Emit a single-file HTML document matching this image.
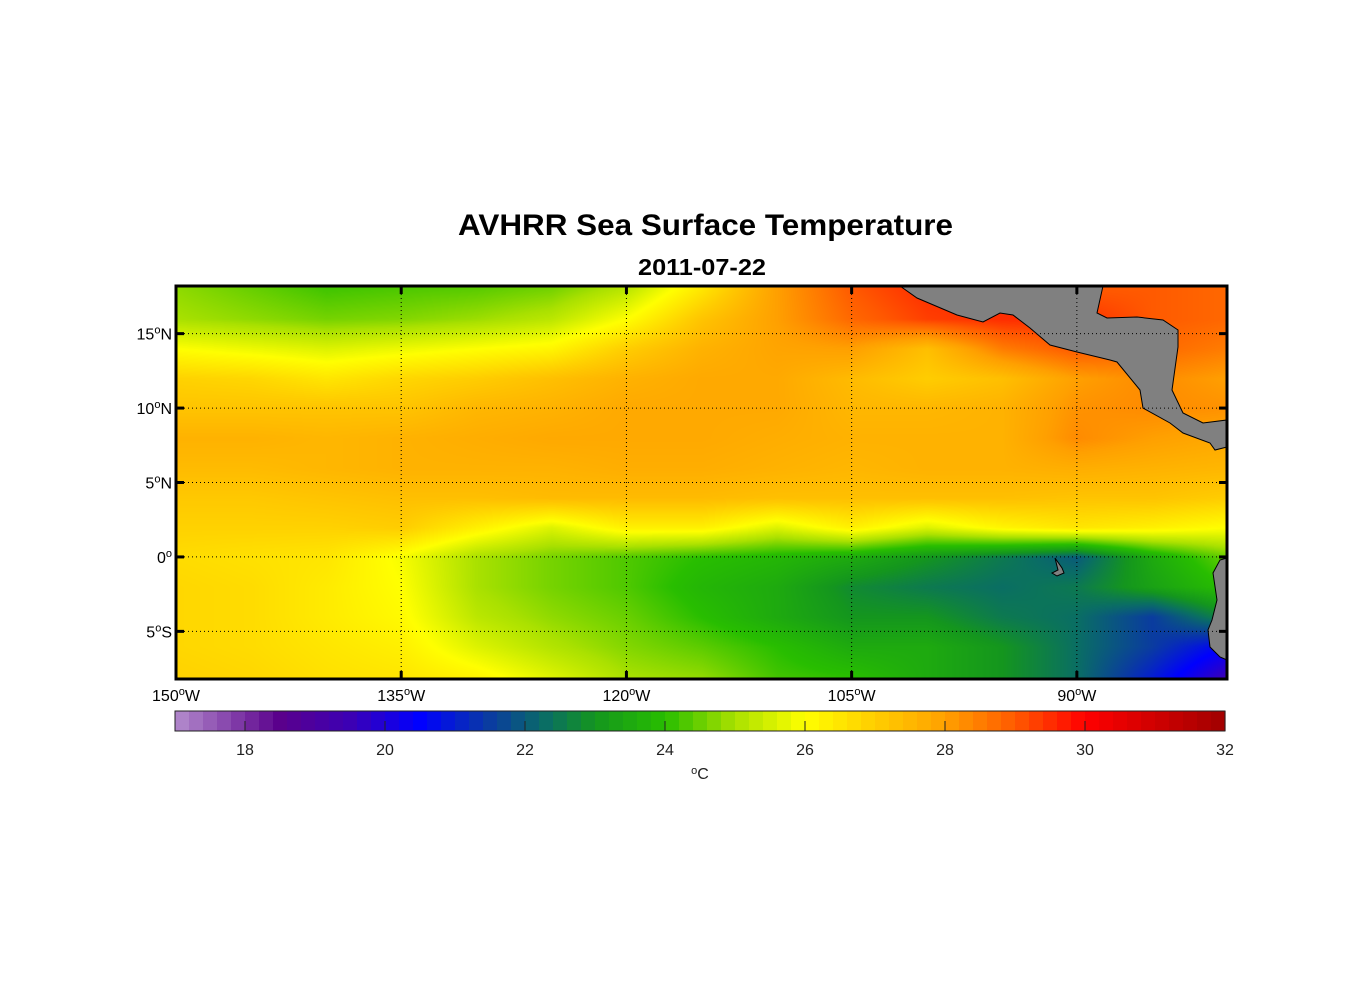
<!DOCTYPE html>
<html><head><meta charset="utf-8"><style>
html,body{margin:0;padding:0;background:#fff;}
body{width:1356px;height:1000px;position:relative;overflow:hidden;font-family:"Liberation Sans",sans-serif;}
svg{position:absolute;left:0;top:0;}
canvas{position:absolute;}
</style></head><body>
<canvas id="map" style="left:176px;top:286px" width="1051" height="393"></canvas>
<svg id="svg" width="1356" height="1000"></svg>
<script>
const lons = [-150,-145,-140,-135,-130,-125,-120,-115,-110,-105,-100,-95,-90,-85,-80];
const lats = [18,16,14,12,10,8,6,4,2,0,-2,-4,-6,-8];
const sst = [
[24.8,24.5,24.2,24.3,24.4,24.6,25.2,26.5,28,29,29.5,29.5,29,29,28.8],
[25,24.8,24.6,24.7,24.9,25.2,26,27.2,28,28.8,29.3,29.5,29.5,29,28.8],
[26,25.8,25.6,25.8,26,26.2,27,27.6,27.9,28,27.3,28.5,29,28.8,28.5],
[26.9,26.8,26.5,26.8,27,27.3,27.6,27.8,27.8,27.4,27,27.3,28,28.3,28],
[27.2,27.2,27.2,27.2,27.5,27.6,27.8,27.8,27.8,27.5,27.5,27.6,28.2,28.3,28.2],
[27.6,27.6,27.5,27.6,27.7,27.8,27.8,27.8,27.7,27.6,27.6,27.6,28.3,28,27.8],
[27.4,27.4,27.5,27.6,27.6,27.6,27.7,27.7,27.6,27.5,27.6,27.6,27.7,27.6,27.5],
[27.1,27.1,27.2,27.3,27.3,27.4,27.4,27.4,27.3,27.3,27.3,27.3,27.2,27.2,27],
[26.9,26.9,26.9,27,26.3,25.6,26.3,26.3,25.6,26.3,25.6,26.2,26.5,26.3,26],
[26.7,26.6,26.5,25.9,25,24.6,24.3,24,23.8,23.5,23,22.5,22,23.5,24.5],
[26.8,26.7,26.4,26,25,24.6,24.3,23.8,23.5,22.8,22.5,22.3,22.5,23.3,24],
[26.8,26.7,26.4,26.1,25.2,24.8,24.5,24,23.5,23,23,22.5,22.3,21.5,22.8],
[26.8,26.7,26.5,26.3,25.6,25.1,24.7,24.4,24,23.5,23.5,23,22.3,21.5,20.5],
[26.9,26.8,26.6,26.5,26.2,25.6,25,24.8,24.2,24,23.5,23,22.3,21,19.5]
];
const cbTicks = [18,20,22,24,26,28,30,32];
const lonTicks = [-150,-135,-120,-105,-90];
const latTicks = [15,10,5,0,-5];
const cmap = [[17,180,140,205],[18.5,90,0,140],[19.5,60,0,180],[20.5,0,0,255],[21.5,10,60,160],[22.3,10,110,100],[23,20,150,30],[24,40,190,0],[25,170,225,0],[26,255,255,0],[27,255,205,0],[28,255,160,0],[29,255,90,0],[30,255,0,0],[32,160,0,0]];
function col(v){
  if(v<=cmap[0][0]) return cmap[0].slice(1);
  for(let i=1;i<cmap.length;i++){ if(v<=cmap[i][0]){const a=cmap[i-1],b=cmap[i],t=(v-a[0])/(b[0]-a[0]);return [0,1,2].map(k=>a[k+1]+(b[k+1]-a[k+1])*t);} }
  return cmap[cmap.length-1].slice(1);
}
const X0=176,X1=1227,Y0=286,Y1=679;
const lonMin=-150,lonMax=-80,latMin=-8.2,latMax=18.2;
const xs=l=>X0+(l-lonMin)/(lonMax-lonMin)*(X1-X0);
const ys=l=>Y0+(latMax-l)/(latMax-latMin)*(Y1-Y0);
const cbX0=175,cbX1=1225,cbMin=17,cbMax=32;
const cx=v=>cbX0+(v-cbMin)/(cbMax-cbMin)*(cbX1-cbX0);
const cv=document.getElementById('map'),ctx=cv.getContext('2d');
const W=cv.width,H=cv.height,img=ctx.createImageData(W,H);
for(let py=0;py<H;py++){const lat=latMax-(py/H)*(latMax-latMin);
 let fy=(lats[0]-lat)/2;fy=Math.max(0,Math.min(lats.length-1.001,fy));const iy=Math.floor(fy),ty=fy-iy;
 for(let px=0;px<W;px++){const lon=lonMin+(px/W)*(lonMax-lonMin);
  let fx=(lon-lons[0])/5;fx=Math.max(0,Math.min(lons.length-1.001,fx));const ix=Math.floor(fx),tx=fx-ix;
  const v=(sst[iy][ix]*(1-tx)+sst[iy][ix+1]*tx)*(1-ty)+(sst[iy+1][ix]*(1-tx)+sst[iy+1][ix+1]*tx)*ty;
  const c=col(v),o=(py*W+px)*4;img.data[o]=c[0];img.data[o+1]=c[1];img.data[o+2]=c[2];img.data[o+3]=255;}}
ctx.putImageData(img,0,0);
const svg=document.getElementById('svg'),NS='http://www.w3.org/2000/svg';
function mk(t,a,p){const e=document.createElementNS(NS,t);for(const k in a)e.setAttribute(k,a[k]);(p||svg).appendChild(e);return e;}
let e=mk('path',{d:'M900,286 L917,298 L957,315 L983,322 L1000,313 L1013,315 L1030,328 L1050,345 L1077,352 L1110,360 L1117,362 L1140,390 L1143,408 L1170,423 L1183,433 L1210,443 L1215,450 L1227,447 L1227,420 L1203,423 L1183,413 L1172,390 L1178,347 L1178,330 L1163,320 L1137,317 L1107,318 L1097,313 L1103,286 Z',fill:'#808080',stroke:'#000','stroke-width':1});

e=mk('path',{d:'M1227,558 L1220,560 L1213,573 L1217,600 L1212,620 L1208,630 L1210,647 L1220,657 L1227,660 Z',fill:'#808080',stroke:'#000','stroke-width':1});

e=mk('path',{d:'M1055,558 L1062,568 L1064,573 L1057,576 L1052,573 L1058,570 Z',fill:'#808080',stroke:'#000','stroke-width':1});

lonTicks.forEach(l=>{const x=xs(l);
 if(l>lonMin){e=mk('line',{x1:x,y1:Y0,x2:x,y2:Y1,stroke:'#000','stroke-width':1,'stroke-dasharray':'1,3'});}
 mk('line',{x1:x,y1:Y0,x2:x,y2:Y0+8,stroke:'#000','stroke-width':3});mk('line',{x1:x,y1:Y1,x2:x,y2:Y1-8,stroke:'#000','stroke-width':3});
 e=mk('text',{x:x,y:Y1+22,'text-anchor':'middle','font-size':16});e.innerHTML=(-l)+'<tspan dy="-6" font-size="11">o</tspan><tspan dy="6">W</tspan>';
 });
latTicks.forEach(l=>{const y=ys(l);
 e=mk('line',{x1:X0,y1:y,x2:X1,y2:y,stroke:'#000','stroke-width':1,'stroke-dasharray':'1,3'});
 mk('line',{x1:X0,y1:y,x2:X0+8,y2:y,stroke:'#000','stroke-width':3});mk('line',{x1:X1,y1:y,x2:X1-8,y2:y,stroke:'#000','stroke-width':3});
 e=mk('text',{x:X0-4,y:y+6,'text-anchor':'end','font-size':16});e.innerHTML=Math.abs(l)+'<tspan dy="-6" font-size="11">o</tspan><tspan dy="6">'+(l>0?'N':l<0?'S':'')+'</tspan>';
 });
e=mk('rect',{x:X0,y:Y0,width:X1-X0,height:Y1-Y0,fill:'none',stroke:'#000','stroke-width':3});
e=mk('text',{x:458,y:235,'font-size':30,'font-weight':'bold',textLength:495,lengthAdjust:'spacingAndGlyphs'});e.textContent='AVHRR Sea Surface Temperature';
e=mk('text',{x:638,y:275,'font-size':23,'font-weight':'bold',textLength:128,lengthAdjust:'spacingAndGlyphs'});e.textContent='2011-07-22';
const cb=mk('g',{});
for(let v=cbMin;v<cbMax-0.01;v+=0.2){const c=col(v+0.1);mk('rect',{x:cx(v),y:711,width:cx(v+0.2)-cx(v)+0.6,height:20,fill:'rgb('+c.map(Math.round).join(',')+')'},cb);}
mk('rect',{x:cbX0,y:711,width:cbX1-cbX0,height:20,fill:'none',stroke:'#222','stroke-width':1},cb);
cbTicks.forEach(v=>{const x=cx(v);mk('line',{x1:x,y1:731,x2:x,y2:721,stroke:'#222','stroke-width':1},cb);
 e=mk('text',{x:x,y:755,'text-anchor':'middle','font-size':16,fill:'#222'},cb);e.textContent=v;});
e=mk('text',{x:700,y:779,'text-anchor':'middle','font-size':16,fill:'#222'});e.innerHTML='<tspan dy="-5" font-size="11">o</tspan><tspan dy="5">C</tspan>';
</script>
</body></html>
